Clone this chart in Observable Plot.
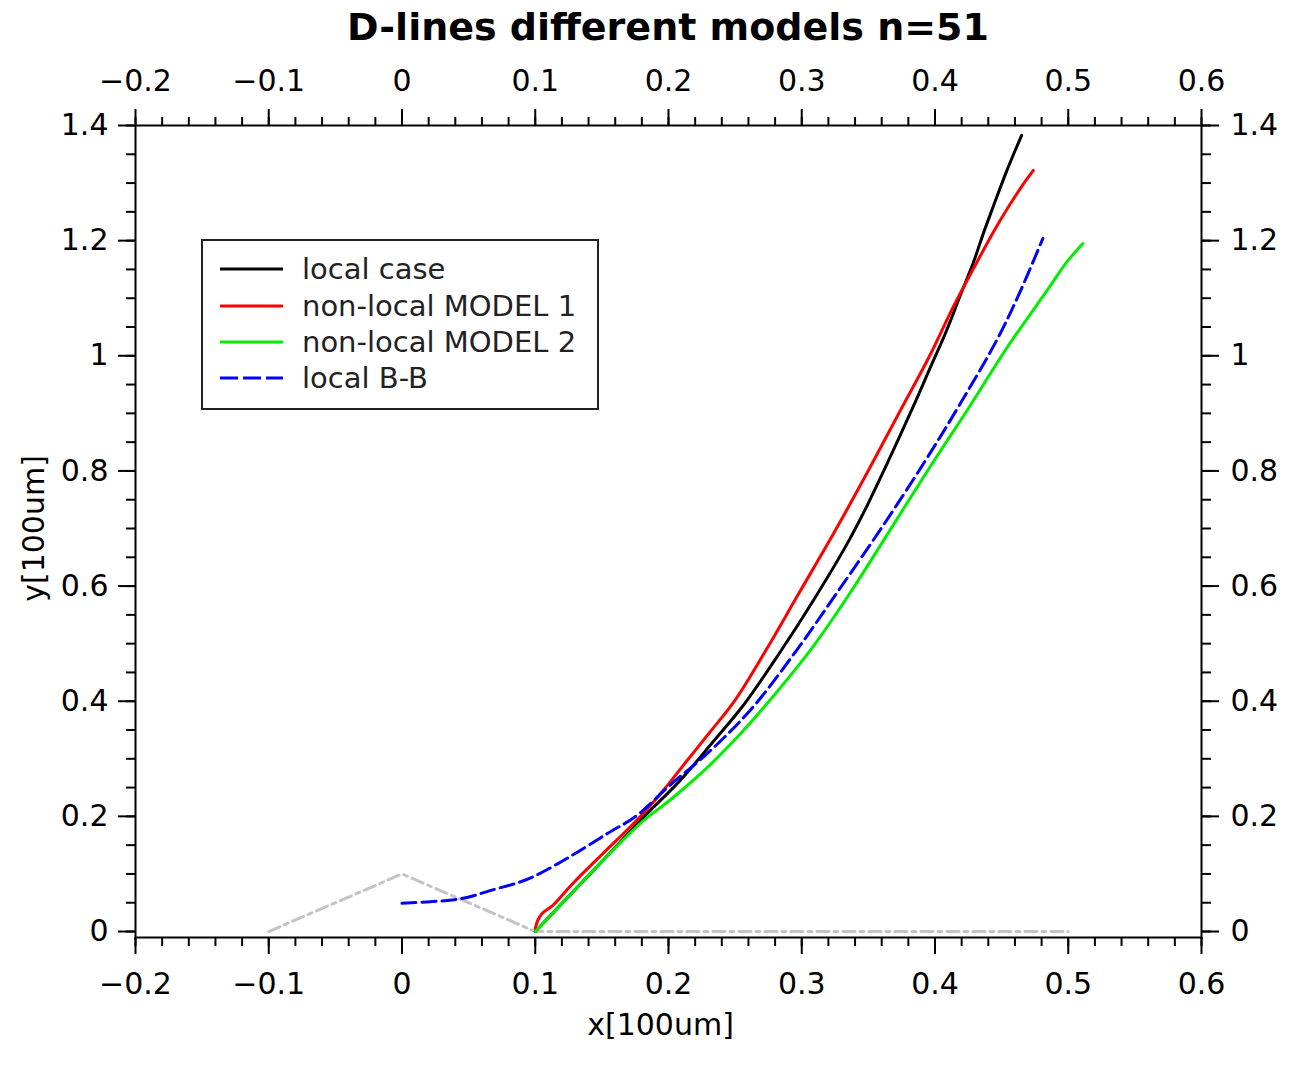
<!DOCTYPE html>
<html>
<head>
<meta charset="utf-8">
<script src="https://cdn.jsdelivr.net/npm/d3@7"></script>
<script src="https://cdn.jsdelivr.net/npm/@observablehq/plot@0.6"></script>
<style>
  body { margin: 0; background: #fff; font-family: "DejaVu Sans", sans-serif; }
  #wrap { position: relative; width: 1289px; height: 1065px; overflow: hidden; }
  #title { position: absolute; left: 47px; right: 0; top: 0; height: 55px; line-height: 55px;
           text-align: center; font-weight: bold; font-size: 38px; color: #000; z-index: 2; }
  #legend { position: absolute; left: 201px; top: 239px; width: 398px; height: 171px;
            box-sizing: border-box; border: 2px solid #222; background: #fff; padding-top: 10px; z-index: 2; }
  .row { display: flex; align-items: center; height: 36.4px; }
  .row svg { margin-left: 17px; display: block; }
  .row span { margin-left: 19px; font-size: 29px; color: #222; white-space: nowrap; }
</style>
</head>
<body>
<div id="wrap">
  <div id="title">D-lines different models n=51</div>
  <div id="legend"></div>
  <div id="chart"></div>
</div>
<script>
// ---- tick values ----
const xTicks = [-0.2, -0.1, 0, 0.1, 0.2, 0.3, 0.4, 0.5, 0.6];
const yTicks = [0, 0.2, 0.4, 0.6, 0.8, 1, 1.2, 1.4];
const xMinor = d3.range(-10, 31).map(i => i * 0.02);
const yMinor = d3.range(0, 29).map(i => i * 0.05);

// ---- series names / colours ----
const seriesNames = ["local case", "non-local MODEL 1", "non-local MODEL 2", "local B-B"];
const seriesColors = ["#000000", "#ff0000", "#00ee00", "#0000ff"];

// ---- local case (black) ----
const localX = [0.1, 0.125, 0.151, 0.181, 0.2086, 0.2336, 0.2562, 0.2837, 0.3087, 0.3337, 0.3487, 0.3625, 0.3837, 0.3962, 0.4087, 0.4188, 0.4288, 0.4362, 0.4435, 0.454, 0.465];
const localY = [0, 0.061, 0.124, 0.198, 0.262, 0.330, 0.393, 0.485, 0.575, 0.672, 0.738, 0.805, 0.912, 0.978, 1.044, 1.104, 1.162, 1.212, 1.258, 1.322, 1.383];

// ---- non-local MODEL 1 (red) ----
const model1X = [0.1, 0.102, 0.105, 0.113, 0.128, 0.151, 0.171, 0.181, 0.196, 0.214, 0.231, 0.25, 0.273, 0.296, 0.326, 0.351, 0.374, 0.396, 0.4135, 0.432, 0.4463, 0.456, 0.465, 0.4738];
const model1Y = [0.005, 0.02, 0.031, 0.045, 0.083, 0.136, 0.181, 0.205, 0.245, 0.297, 0.346, 0.402, 0.488, 0.580, 0.700, 0.805, 0.905, 1.0, 1.084, 1.165, 1.225, 1.262, 1.294, 1.322];

// ---- non-local MODEL 2 (green) ----
const model2X = [0.1, 0.125, 0.151, 0.181, 0.201, 0.226, 0.251, 0.2725, 0.3085, 0.3385, 0.364, 0.396, 0.426, 0.454, 0.484, 0.499, 0.511];
const model2Y = [0, 0.061, 0.124, 0.192, 0.228, 0.278, 0.336, 0.392, 0.495, 0.596, 0.689, 0.806, 0.912, 1.014, 1.113, 1.163, 1.195];

// ---- local B-B (blue dashed) ----
const bbX = [0, 0.0338, 0.0488, 0.066, 0.0886, 0.1036, 0.126, 0.154, 0.176, 0.201, 0.229, 0.262, 0.296, 0.326, 0.359, 0.392, 0.419, 0.447, 0.464, 0.481];
const bbY = [0.049, 0.054, 0.059, 0.071, 0.086, 0.101, 0.130, 0.170, 0.201, 0.254, 0.309, 0.386, 0.488, 0.587, 0.698, 0.815, 0.917, 1.030, 1.112, 1.204];

// ---- grey reference outline ----
const refX = [-0.1, 0, 0.1, 0.5];
const refY = [0, 0.1, 0, 0];

const rows = (xs, ys) => xs.map((x, i) => ({x, y: ys[i]}));
const fmt = d3.format(".1~f");

const chart = Plot.plot({
  width: 1289,
  height: 1065,
  marginLeft: 135,
  marginRight: 88,
  marginTop: 125,
  marginBottom: 128,
  x: {domain: [-0.2, 0.6], label: null},
  y: {domain: [-0.0104, 1.4], label: null},
  style: {fontFamily: "DejaVu Sans", fontSize: "30px", color: "#000", background: "transparent"},
  marks: [
    Plot.line(rows(refX, refY), {x: "x", y: "y", stroke: "#c4c4c4", strokeWidth: 3, strokeDasharray: "12,5,4,5"}),
    Plot.line(rows(localX, localY), {x: "x", y: "y", stroke: seriesColors[0], strokeWidth: 3, curve: "catmull-rom"}),
    Plot.line(rows(model1X, model1Y), {x: "x", y: "y", stroke: seriesColors[1], strokeWidth: 3, curve: "catmull-rom"}),
    Plot.line(rows(model2X, model2Y), {x: "x", y: "y", stroke: seriesColors[2], strokeWidth: 3, curve: "catmull-rom"}),
    Plot.line(rows(bbX, bbY), {x: "x", y: "y", stroke: seriesColors[3], strokeWidth: 3, strokeDasharray: "14,6", curve: "catmull-rom"}),
    Plot.frame({stroke: "#000", strokeWidth: 2}),
    // major ticks + labels
    Plot.axisX(xTicks, {anchor: "bottom", tickSize: 17, tickPadding: 18, tickFormat: fmt, label: null, stroke: "#000", strokeWidth: 2, fill: "#000"}),
    Plot.axisX(xTicks, {anchor: "top", tickSize: 17, tickPadding: 18, tickFormat: fmt, label: null, stroke: "#000", strokeWidth: 2, fill: "#000"}),
    Plot.axisY(yTicks, {anchor: "left", tickSize: 17, tickPadding: 10, tickFormat: fmt, label: null, stroke: "#000", strokeWidth: 2, fill: "#000"}),
    Plot.axisY(yTicks, {anchor: "right", tickSize: 17, tickPadding: 12, tickFormat: fmt, label: null, stroke: "#000", strokeWidth: 2, fill: "#000"}),
    // minor ticks
    Plot.axisX(xMinor, {anchor: "bottom", tickSize: 9, tickFormat: () => "", label: null, stroke: "#000", strokeWidth: 2}),
    Plot.axisX(xMinor, {anchor: "top", tickSize: 9, tickFormat: () => "", label: null, stroke: "#000", strokeWidth: 2}),
    Plot.axisY(yMinor, {anchor: "left", tickSize: 9, tickFormat: () => "", label: null, stroke: "#000", strokeWidth: 2}),
    Plot.axisY(yMinor, {anchor: "right", tickSize: 9, tickFormat: () => "", label: null, stroke: "#000", strokeWidth: 2}),
    // axis titles
    Plot.text(["x[100um]"], {frameAnchor: "bottom", lineAnchor: "middle", textAnchor: "middle", dy: 88, dx: -8, fontSize: 30, fill: "#000"}),
    Plot.text(["y[100um]"], {frameAnchor: "left", lineAnchor: "middle", textAnchor: "middle", rotate: -90, dx: -101, dy: -3, fontSize: 30, fill: "#000"})
  ]
});
document.getElementById("chart").appendChild(chart);

// legend
const legend = document.getElementById("legend");
seriesNames.forEach((name, i) => {
  const row = document.createElement("div");
  row.className = "row";
  const dash = i === 3 ? ' stroke-dasharray="18,5"' : "";
  row.innerHTML = `<svg width="63" height="6"><line x1="0" y1="3" x2="63" y2="3" stroke="${seriesColors[i]}" stroke-width="3"${dash}/></svg><span>${name}</span>`;
  legend.appendChild(row);
});
</script>
</body>
</html>
